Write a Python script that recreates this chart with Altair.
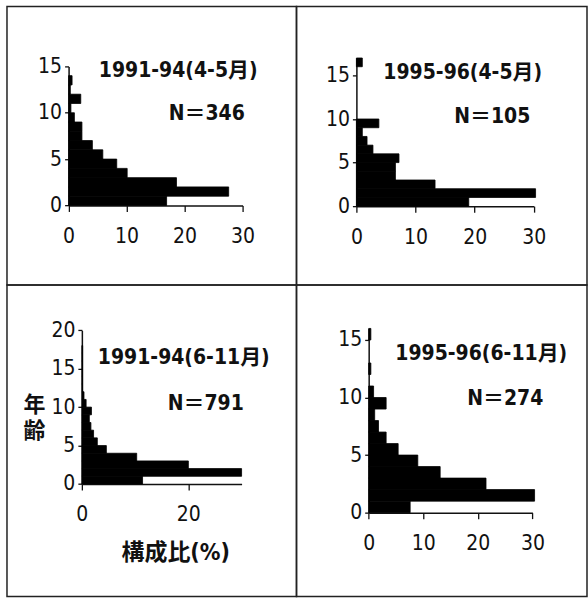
import altair as alt
import pandas as pd

# ---- data ----
panel_titles = ["1991-94(4-5月)", "1995-96(4-5月)", "1991-94(6-11月)", "1995-96(6-11月)"]
panel_n = ["N＝346", "N＝105", "N＝791", "N＝274"]

ages_p1 = list(range(0, 14))
pct_p1 = [16.9, 27.6, 18.6, 10.1, 8.3, 5.9, 4.1, 2.3, 2.3, 1.0, 0.4, 2.1, 0.3, 0.6]

ages_p2 = list(range(0, 17))
pct_p2 = [19.0, 30.3, 13.3, 6.6, 6.6, 7.2, 2.8, 1.8, 1.0, 3.8, 0, 0, 0, 0, 0, 0, 1.0]

ages_p3 = list(range(0, 18))
pct_p3 = [11.4, 30.0, 20.0, 10.3, 4.6, 2.9, 2.2, 1.7, 1.4, 1.8, 0.8, 0.4,
          0.15, 0.15, 0.15, 0.15, 0.15, 0.15]

ages_p4 = list(range(0, 16))
pct_p4 = [7.6, 30.4, 21.5, 13.1, 9.0, 5.4, 3.2, 1.8, 1.1, 3.2, 0.9, 0, 0.4, 0, 0, 0.4]

x_ticks_a = [0, 10, 20, 30]
x_ticks_b = [0, 20]
y_ticks_a = [0, 5, 10, 15]
y_ticks_b = [0, 5, 10, 15, 20]
x_label = "構成比(%)"
y_label = ["年", "齢"]

FONT = "Liberation Sans Narrow, Arial Narrow, DejaVu Sans Condensed, Noto Sans CJK JP, sans-serif"
INK = "#111"


def panel(ages, pcts, title, n, W, H, xr, yr, xdom, ydom, xticks, yticks,
          tpos, npos, xtitle=None, ytitle=None, xtitle_pos=None, ytitle_pos=None):
    df = pd.DataFrame({
        "age": ages,
        "age_top": [a + 1 for a in ages],
        "base": [0] * len(ages),
        "pct": pcts,
    })
    df = df[df["pct"] > 0]
    xaxis_kw = dict(values=xticks, format="d", orient="bottom",
                    offset=-(H - yr[0]), grid=False, tickSize=6,
                    labelPadding=14, labelFont=FONT, labelFontSize=21,
                    labelColor=INK, domainColor=INK, tickColor=INK,
                    domainWidth=1.5, tickWidth=1.3, labelFlush=False)
    yaxis_kw = dict(values=yticks, format="d", orient="left",
                    offset=-xr[0], grid=False, tickSize=4,
                    labelPadding=3, labelFont=FONT, labelFontSize=21,
                    labelColor=INK, domainColor=INK, tickColor=INK,
                    domainWidth=1.5, tickWidth=1.3)
    if xtitle is not None:
        xaxis_kw.update(title=xtitle, titleFont=FONT, titleFontSize=23,
                        titleFontWeight="bold", titleColor=INK,
                        titleX=xtitle_pos[0], titleY=xtitle_pos[1] - yr[0],
                        titleAlign="center", titleBaseline="middle")
    else:
        xaxis_kw.update(title=None)
    if ytitle is not None:
        yaxis_kw.update(title=ytitle, titleFont=FONT, titleFontSize=22,
                        titleFontWeight="bold", titleColor=INK, titleAngle=0,
                        titleX=ytitle_pos[0] - xr[0], titleY=ytitle_pos[1],
                        titleAlign="center", titleBaseline="middle",
                        titleLineHeight=26)
    else:
        yaxis_kw.update(title=None)

    bars = alt.Chart(df).mark_rect(color="black", stroke="black", strokeWidth=0.8).encode(
        x=alt.X("base:Q", scale=alt.Scale(domain=xdom, range=xr, nice=False, zero=False),
                axis=alt.Axis(**xaxis_kw)),
        x2="pct:Q",
        y=alt.Y("age:Q", scale=alt.Scale(domain=ydom, range=yr, nice=False, zero=False),
                axis=alt.Axis(**yaxis_kw)),
        y2="age_top:Q",
    )
    tdf = pd.DataFrame({"t": [title]})
    ndf = pd.DataFrame({"t": [n]})
    ttxt = alt.Chart(tdf).mark_text(align="left", baseline="middle", font=FONT,
                                    fontSize=21, fontWeight="bold", color=INK).encode(
        text="t:N", x=alt.value(tpos[0]), y=alt.value(tpos[1]))
    ntxt = alt.Chart(ndf).mark_text(align="left", baseline="middle", font=FONT,
                                    fontSize=21, fontWeight="bold", color=INK).encode(
        text="t:N", x=alt.value(npos[0]), y=alt.value(npos[1]))
    return alt.layer(bars, ttxt, ntxt).properties(width=W, height=H)


p1 = panel(ages_p1, pct_p1, panel_titles[0], panel_n[0], 290, 279,
           [61.7, 236.0], [199.3, 60.0], [0, 30], [0, 15], x_ticks_a, y_ticks_a,
           (92, 65), (162, 108))
p2 = panel(ages_p2, pct_p2, panel_titles[1], panel_n[1], 291, 279,
           [60.0, 237.7], [200.0, 51.6], [0, 30], [0, 17], x_ticks_a, y_ticks_a,
           (87, 67), (158, 111))
p3 = panel(ages_p3, pct_p3, panel_titles[2], panel_n[2], 290, 312,
           [75.0, 235.0], [199.3, 45.3], [0, 30], [0, 20], x_ticks_b, y_ticks_b,
           (91, 73), (161, 119),
           xtitle=x_label, ytitle=y_label, xtitle_pos=(168.5, 268), ytitle_pos=(27, 120))
p4 = panel(ages_p4, pct_p4, panel_titles[3], panel_n[3], 291, 312,
           [72.3, 236.3], [228.0, 43.5], [0, 30], [0, 16], x_ticks_a, y_ticks_a,
           (99, 69), (171, 114))

chart = alt.concat(p1, p2, p3, p4, columns=2, spacing=0, bounds="flush", align="each").properties(
    padding={"left": 6, "top": 5, "right": 0, "bottom": 0},
    background="white",
).configure_view(stroke="#222", strokeWidth=1.5)

chart.save("out.html", embed_options={"renderer": "svg", "actions": False})
